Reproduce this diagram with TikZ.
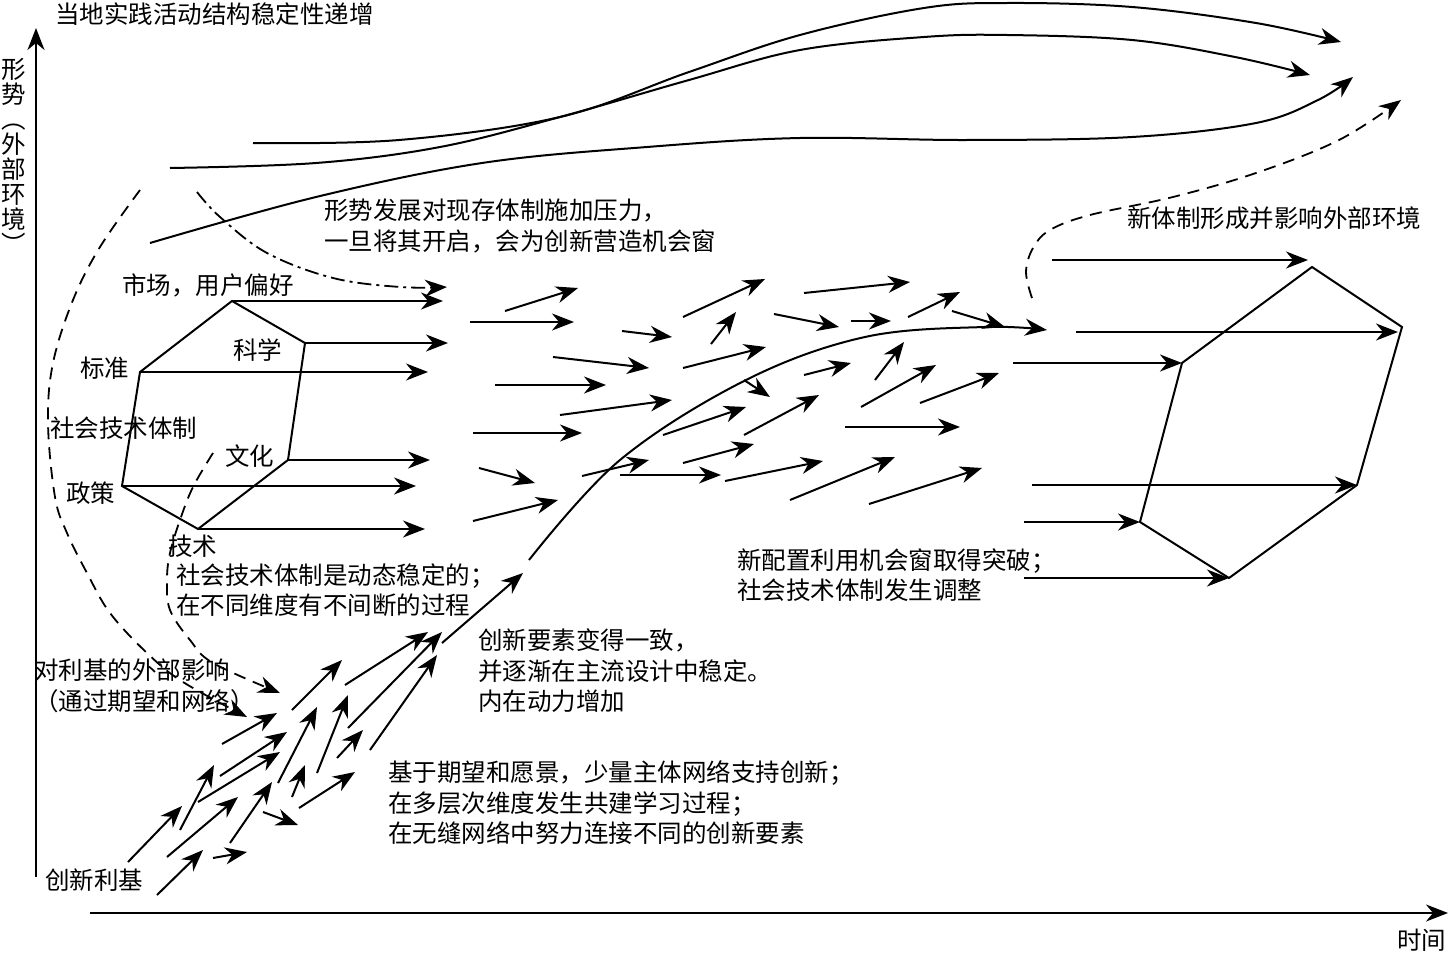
\documentclass[tikz,border=0pt]{standalone}
\usepackage{fontspec}
\setmainfont{Noto Sans CJK SC}
\usetikzlibrary{arrows.meta}

\tikzset{
  lbl/.style={anchor=west, inner sep=0pt, align=left, font=\fontsize{24.5}{30.5}\selectfont},
  tip/.style={-{Stealth[length=22pt,width=17pt,inset=7pt]}},
  arr/.style={line width=2pt, tip},
  crv/.style={line width=2pt},
  dsh/.style={line width=1.8pt, dash pattern=on 12pt off 8pt},
  dshdot/.style={line width=1.8pt, dash pattern=on 14pt off 5pt on 3pt off 5pt},
}

\begin{document}
\begin{tikzpicture}[x=1pt, y=-1pt]
    \useasboundingbox (0,0) rectangle (1451,953);

    % ---------------- AXES ----------------
    \coordinate (yb) at (36,877); \coordinate (yt) at (36,28);
    \coordinate (xl) at (90,913); \coordinate (xr) at (1448,913);
    \draw[arr] (yb) -- (yt);
    \draw[arr] (xl) -- (xr);
    \node[inner sep=0pt, align=center, font=\fontsize{24.5}{25}\selectfont] (ylabel) at (14,156)
        {形\\势\\︵\\外\\部\\环\\境\\︶};
    \node[lbl] (xlabel) at (1397,940) {时间};

    % ---------------- TEXTS ----------------
    \node[lbl] (title) at (55,14) {当地实践活动结构稳定性递增};
    \node[lbl] (pressure) at (324,226) {形势发展对现存体制施加压力，\\一旦将其开启，会为创新营造机会窗};
    \node[lbl] (market) at (122,285) {市场，用户偏好};
    \node[lbl] (standard) at (80,368) {标准};
    \node[lbl] (science) at (233,350) {科学};
    \node[lbl] (regime) at (50,428) {社会技术体制};
    \node[lbl] (culture) at (225,456) {文化};
    \node[lbl] (policy) at (66,493) {政策};
    \node[lbl] (tech) at (168,546) {技术};
    \node[lbl] (regimenote) at (176,590) {社会技术体制是动态稳定的；\\在不同维度有不间断的过程};
    \node[lbl] (aligned) at (478,671) {创新要素变得一致，\\并逐渐在主流设计中稳定。\\内在动力增加};
    \node[lbl] (extinfl) at (34,686) {对利基的外部影响\\（通过期望和网络）};
    \node[lbl] (nichenote) at (388,803) {基于期望和愿景，少量主体网络支持创新；\\在多层次维度发生共建学习过程；\\在无缝网络中努力连接不同的创新要素};
    \node[lbl] (niche) at (45,880) {创新利基};
    \node[lbl] (breakthrough) at (737,575) {新配置利用机会窗取得突破；\\社会技术体制发生调整};
    \node[lbl] (newregime) at (1127,218) {新体制形成并影响外部环境};

    % ---------------- LANDSCAPE CURVES ----------------
    \draw[arr] plot[smooth, tension=0.6] coordinates {(253,143) (399,140) (560,117) (689,72) (800,35) (924,8) (1007,3) (1132,7) (1256,23) (1341,42)};
    \draw[arr] plot[smooth, tension=0.6] coordinates {(170,168) (316,163) (440,147) (560,117) (689,80) (800,50) (924,37) (1007,35) (1132,40) (1235,57) (1310,75)};
    \draw[arr] plot[smooth, tension=0.6] coordinates {(150,243) (316,197) (482,163) (647,147) (800,138) (966,140) (1132,137) (1256,123) (1318,100) (1353,77)};
    \draw[dsh, tip] plot[smooth, tension=0.6] coordinates {(1032,298) (1026,272) (1033,248) (1050,230) (1090,215) (1173,197) (1256,173) (1339,140) (1401,100)};
    \draw[dshdot, tip] plot[smooth, tension=0.6] coordinates {(197,192) (220,217) (267,253) (333,278) (400,287) (447,287)};

    % external influence on niche
    \draw[dsh, tip] plot[smooth, tension=0.6] coordinates {(140,190) (100,247) (73,300) (53,363) (48,423) (55,497) (67,533) (87,573) (110,613) (147,653) (183,682) (247,717)};
    \draw[dsh, tip] plot[smooth, tension=0.6] coordinates {(213,453) (193,487) (180,520) (170,553) (167,580) (170,610) (190,640) (213,663) (280,693)};

    % ---------------- OLD REGIME ----------------
    \coordinate (mkt) at (232,301); \coordinate (sci) at (305,343); \coordinate (cul) at (288,460);
    \coordinate (tec) at (198,529); \coordinate (pol) at (122,486); \coordinate (std) at (140,372);
    \draw[crv] (mkt) -- (sci) -- (cul) -- (tec) -- (pol) -- (std) -- cycle;
    \draw[arr] (mkt) -- (443,301); \draw[arr] (sci) -- (448,343); \draw[arr] (std) -- (428,372);
    \draw[arr] (cul) -- (430,460); \draw[arr] (pol) -- (416,486); \draw[arr] (tec) -- (425,529);

    % ---------------- NICHE ARROWS ----------------
    \draw[arr] (128,862) -- (182,806); \draw[arr] (180,830) -- (214,765); \draw[arr] (167,857) -- (238,797);
    \draw[arr] (157,895) -- (203,850); \draw[arr] (213,858) -- (247,852); \draw[arr] (220,776) -- (287,732);
    \draw[arr] (198,802) -- (280,752); \draw[arr] (222,744) -- (277,713); \draw[arr] (230,843) -- (272,782);
    \draw[arr] (263,812) -- (298,825); \draw[arr] (278,783) -- (317,707); \draw[arr] (292,797) -- (305,765);
    \draw[arr] (292,710) -- (342,660); \draw[arr] (299,808) -- (355,772); \draw[arr] (317,773) -- (348,695);
    \draw[arr] (337,758) -- (363,730); \draw[arr] (348,728) -- (442,632); \draw[arr] (345,685) -- (428,632);
    \draw[arr] (370,750) -- (437,655); \draw[arr] (442,643) -- (523,573);

    % breakthrough curve
    \draw[arr] plot[smooth, tension=0.6] coordinates {(529,560) (620,460) (746,380) (865,337) (984,327) (1047,330)};

    % ---------------- WINDOW ARROWS ----------------
    \draw[arr] (505,311) -- (578,288); \draw[arr] (470,322) -- (574,322); \draw[arr] (622,331) -- (672,337);
    \draw[arr] (683,317) -- (765,279); \draw[arr] (711,344) -- (736,312); \draw[arr] (804,293) -- (910,282);
    \draw[arr] (774,314) -- (839,327); \draw[arr] (851,321) -- (891,321); \draw[arr] (908,317) -- (960,292);
    \draw[arr] (952,311) -- (1005,327); \draw[arr] (553,357) -- (649,368); \draw[arr] (683,368) -- (766,347);
    \draw[arr] (495,385) -- (606,385); \draw[arr] (560,415) -- (672,400); \draw[arr] (744,380) -- (770,397);
    \draw[arr] (804,375) -- (851,363); \draw[arr] (875,380) -- (904,342); \draw[arr] (861,407) -- (936,365);
    \draw[arr] (920,403) -- (999,373); \draw[arr] (473,433) -- (582,433); \draw[arr] (663,435) -- (746,407);
    \draw[arr] (744,435) -- (819,395); \draw[arr] (845,427) -- (960,427); \draw[arr] (479,468) -- (535,483);
    \draw[arr] (582,476) -- (649,460); \draw[arr] (620,475) -- (721,475); \draw[arr] (683,463) -- (754,444);
    \draw[arr] (725,481) -- (823,461); \draw[arr] (790,500) -- (895,457); \draw[arr] (869,504) -- (982,468);
    \draw[arr] (473,521) -- (558,500);

    % ---------------- NEW REGIME ----------------
    \coordinate (n1) at (1312,267); \coordinate (n2) at (1402,327); \coordinate (n3) at (1357,485);
    \coordinate (n4) at (1229,578); \coordinate (n5) at (1140,522); \coordinate (n6) at (1182,363);
    \draw[crv] (n1) -- (n2) -- (n3) -- (n4) -- (n5) -- (n6) -- cycle;
    \draw[arr] (1052,260) -- (1308,260); \draw[arr] (1076,332) -- (1398,332); \draw[arr] (1013,363) -- (n6);
    \draw[arr] (1032,485) -- (n3); \draw[arr] (1024,522) -- (n5); \draw[arr] (1024,578) -- (n4);
\end{tikzpicture}
\end{document}
